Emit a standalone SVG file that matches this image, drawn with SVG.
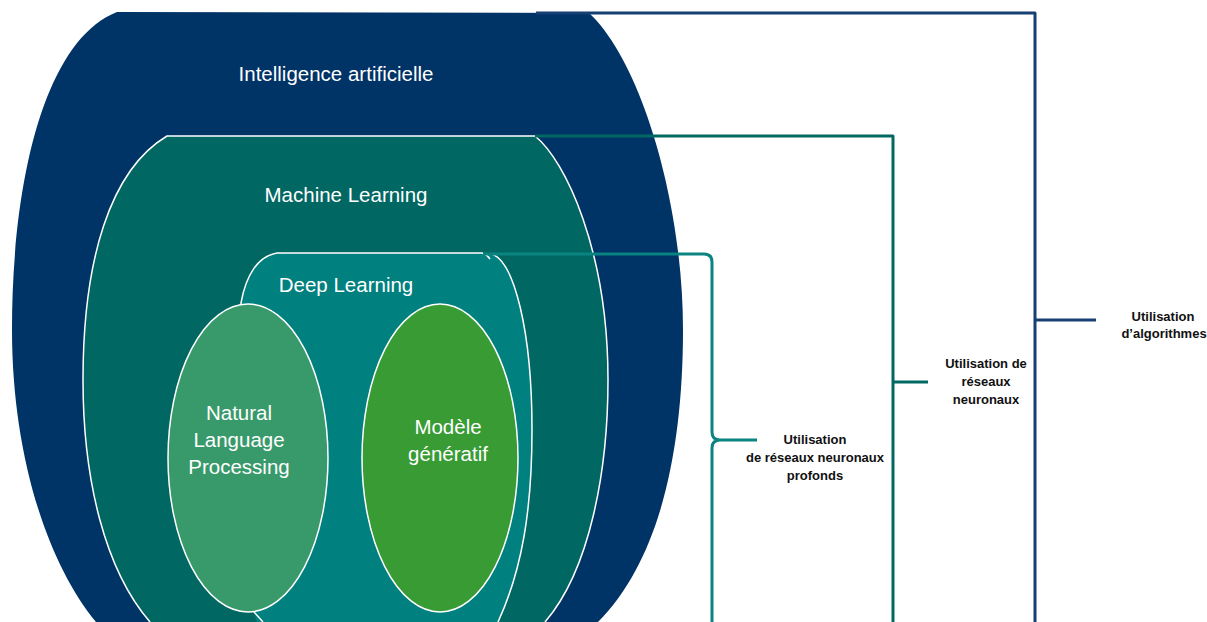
<svg xmlns="http://www.w3.org/2000/svg" width="1207" height="622" viewBox="0 0 1207 622">
<style>
.lbl{font-family:"Liberation Sans",Arial,sans-serif;font-size:20.5px;fill:#ffffff;text-anchor:middle}
.side{font-family:"Liberation Sans",Arial,sans-serif;font-size:13px;font-weight:bold;fill:#111111;text-anchor:middle}
.edge{fill:none;stroke:#ffffff;stroke-width:1.5}
.br{fill:none;stroke-width:3;stroke-linejoin:round}
</style>
<rect width="1207" height="622" fill="#ffffff"/>
<g id="ai">
<path d="M117,12 L589,13 C640,60 683,200 683,330 C683,450 660,560 598,622 L590,640 L90,640 L96,622 C45,560 12,450 12,330 C12,180 45,40 117,12 Z" fill="#003366"/>
<text class="lbl" x="336" y="81">Intelligence artificielle</text>
</g>
<g id="ml">
<path d="M167,136 L535,136 C565,160 608,250 608,380 C608,470 590,570 545,622 L540,640 L145,640 L150,622 C105,570 83,480 83,380 C83,260 110,170 167,136 Z" fill="#016763"/>
<path class="edge" d="M150,622 C105,570 83,480 83,380 C83,260 110,170 167,136 L535,136 C565,160 608,250 608,380 C608,470 590,570 545,622"/>
<text class="lbl" x="346" y="202">Machine Learning</text>
</g>
<g id="dl">
<path d="M277,253 L486,253 L492,254 C514,262 532,330 532,430 C532,510 522,570 498,622 L494,640 L262,640 L254,612 C240,550 236,380 241,303 C246,275 258,256 277,253 Z" fill="#00807E"/>
<path class="edge" d="M263,622 L254,612 C240,550 236,380 241,303 C246,275 258,256 277,253 L482,253 C486,254 488,256 490,259"/>
<path class="edge" d="M492,254 C514,262 532,330 532,430 C532,510 522,570 498,622"/>
<text class="lbl" x="346" y="292">Deep Learning</text>
</g>
<g id="nlp">
<ellipse cx="248" cy="458" rx="80" ry="154" fill="#389A6A" stroke="#ffffff" stroke-width="1.5"/>
<text class="lbl" x="239" y="420">Natural</text>
<text class="lbl" x="239" y="447">Language</text>
<text class="lbl" x="239" y="474">Processing</text>
</g>
<g id="gen">
<ellipse cx="440" cy="458" rx="78" ry="154" fill="#399B34" stroke="#ffffff" stroke-width="1.5"/>
<text class="lbl" x="448" y="434">Modèle</text>
<text class="lbl" x="448" y="461">génératif</text>
</g>
<g id="connectors">
<path class="br" stroke="#163F74" d="M536,13 L1035,13 L1035,640 M1035,320 L1096,320"/>
<path class="br" stroke="#026862" d="M535,136 L893,136 L893,640 M893,382 L928,382"/>
<path class="br" stroke="#0A8480" d="M483,254 L704,254 Q712,254 712,262 L712,432 Q712,440 720,440 L757,440 M720,440 Q712,440 712,448 L712,640"/>
</g>
<g id="label-algo">
<text class="side" x="1163" y="321">Utilisation</text>
<text class="side" x="1164" y="338">d’algorithmes</text>
</g>
<g id="label-nn">
<text class="side" x="986" y="368">Utilisation de</text>
<text class="side" x="986" y="386">réseaux</text>
<text class="side" x="986" y="404">neuronaux</text>
</g>
<g id="label-dnn">
<text class="side" x="815" y="444">Utilisation</text>
<text class="side" x="815" y="462">de réseaux neuronaux</text>
<text class="side" x="815" y="480">profonds</text>
</g>
</svg>
